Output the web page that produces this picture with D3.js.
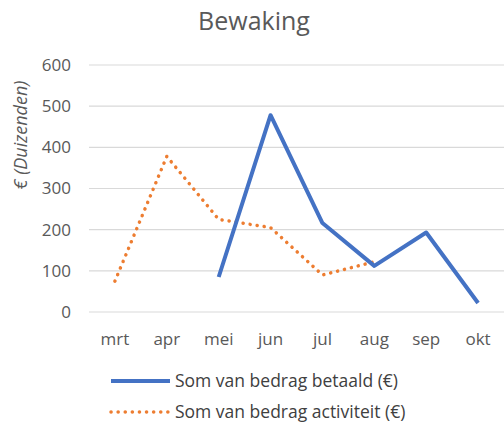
<!DOCTYPE html>
<html>
<head>
<meta charset="utf-8">
<script src="https://cdn.jsdelivr.net/npm/d3@7"></script>
<style>
  body { margin: 0; background: #fff; }
  svg { display: block; font-family: "Open Sans", sans-serif; }
</style>
</head>
<body>
<svg id="drawing_region"></svg>
<script>
// maanden en bedragen (in duizenden euro)
const months = ["mrt", "apr", "mei", "jun", "jul", "aug", "sep", "okt"];
const betaald = [null, null, 85, 478, 216, 112, 193, 22];
const activiteit = [75, 378, 225, 205, 90, 122, null, null];
const yTicks = [0, 100, 200, 300, 400, 500, 600];

const config = {
    width: 504,
    height: 431,
    margin: {top: 65, right: 0, bottom: 119, left: 89}
};

const svg = d3.select('#drawing_region')
    .attr('width', config.width)
    .attr('height', config.height);

const inner_width = config.width - config.margin.left - config.margin.right;
const inner_height = config.height - config.margin.top - config.margin.bottom;

const chart = svg.append('g')
    .attr('transform', `translate(${config.margin.left}, ${config.margin.top})`);

const xscale = d3.scaleBand()
    .domain(months)
    .range([0, inner_width]);

const yscale = d3.scaleLinear()
    .domain([0, 600])
    .range([inner_height, 0]);

// rasterlijnen
chart.append('g')
    .selectAll('line')
    .data(yTicks)
    .join('line')
    .attr('x1', 0)
    .attr('x2', inner_width)
    .attr('y1', d => yscale(d))
    .attr('y2', d => yscale(d))
    .attr('stroke', '#d9d9d9')
    .attr('stroke-width', 1.2);

const yaxis = d3.axisLeft(yscale)
    .tickValues(yTicks)
    .tickSize(0)
    .tickPadding(18);

chart.append('g')
    .call(yaxis)
    .call(g => g.select('.domain').remove())
    .selectAll('text')
    .attr('fill', '#595959')
    .attr('font-size', '17px')
    .attr('font-family', '"Open Sans", sans-serif');

const xaxis = d3.axisBottom(xscale)
    .tickSize(0)
    .tickPadding(21);

chart.append('g')
    .attr('transform', `translate(0, ${inner_height})`)
    .call(xaxis)
    .call(g => g.select('.domain').remove())
    .selectAll('text')
    .attr('fill', '#595959')
    .attr('font-size', '17px')
    .attr('font-family', '"Open Sans", sans-serif');

const line = d3.line()
    .defined(d => d.v !== null)
    .x(d => xscale(d.m) + xscale.bandwidth() / 2)
    .y(d => yscale(d.v));

chart.append('path')
    .datum(months.map((m, i) => ({m: m, v: activiteit[i]})))
    .attr('d', line)
    .attr('fill', 'none')
    .attr('stroke', '#ED7D31')
    .attr('stroke-width', 3.5)
    .attr('stroke-linecap', 'round')
    .attr('stroke-linejoin', 'round')
    .attr('stroke-dasharray', '0.1 7');

chart.append('path')
    .datum(months.map((m, i) => ({m: m, v: betaald[i]})))
    .attr('d', line)
    .attr('fill', 'none')
    .attr('stroke', '#4472C4')
    .attr('stroke-width', 4)
    .attr('stroke-linejoin', 'round');

// titel
svg.append('text')
    .attr('x', 254)
    .attr('y', 30)
    .attr('text-anchor', 'middle')
    .attr('font-size', '25px')
    .attr('fill', '#595959')
    .text('Bewaking');

// y-as titel
svg.append('text')
    .attr('transform', `translate(27, 135) rotate(-90)`)
    .attr('text-anchor', 'middle')
    .attr('font-size', '18px')
    .attr('font-style', 'italic')
    .attr('fill', '#595959')
    .text('€ (Duizenden)');

// legenda
const legend = [
    {label: 'Som van bedrag betaald (€)', color: '#4472C4', dash: null, width: 4, y: 381},
    {label: 'Som van bedrag activiteit (€)', color: '#ED7D31', dash: '0.1 7', width: 3.5, y: 412}
];

const lg = svg.append('g')
    .selectAll('g')
    .data(legend)
    .join('g')
    .attr('transform', d => `translate(0, ${d.y})`);

lg.append('line')
    .attr('x1', 111)
    .attr('x2', 170)
    .attr('stroke', d => d.color)
    .attr('stroke-width', d => d.width)
    .attr('stroke-linecap', d => d.dash ? 'round' : 'butt')
    .attr('stroke-dasharray', d => d.dash);

lg.append('text')
    .attr('x', 175)
    .attr('dy', '0.35em')
    .attr('font-size', '17.5px')
    .attr('fill', '#404040')
    .text(d => d.label);
</script>
</body>
</html>
